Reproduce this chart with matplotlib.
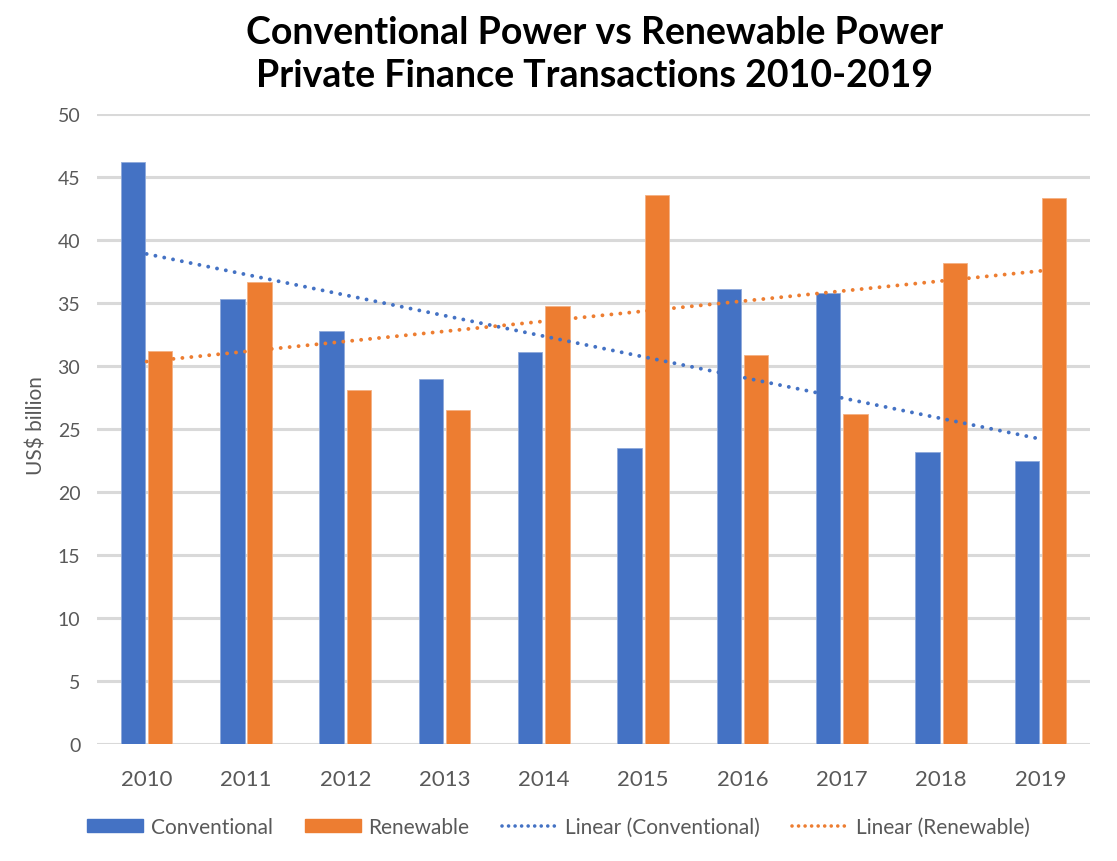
import numpy as np
import matplotlib
matplotlib.use("Agg")
import matplotlib.pyplot as plt
from matplotlib.patches import Patch
from matplotlib.lines import Line2D

years = ["2010", "2011", "2012", "2013", "2014", "2015", "2016", "2017", "2018", "2019"]
conventional = [46.2, 35.3, 32.8, 29.0, 31.1, 23.5, 36.1, 35.8, 23.2, 22.5]
renewable = [31.2, 36.7, 28.1, 26.5, 34.8, 43.6, 30.9, 26.2, 38.2, 43.3]
yticks = [0, 5, 10, 15, 20, 25, 30, 35, 40, 45, 50]

BLUE = "#4472C4"
ORANGE = "#ED7D31"
GRID = "#D9D9D9"
TXT = "#595959"
FONT = "Lato"

plt.rcParams["font.family"] = [FONT, "DejaVu Sans"]

fig = plt.figure(figsize=(11.17, 8.62), dpi=100)
ax = fig.add_axes([0.0868, 0.1357, 0.976 - 0.0868, 0.8666 - 0.1357])

x = np.arange(len(years))
w = 0.245
off = 0.137
ax.bar(x - off, conventional, width=w, color=BLUE, edgecolor="#8EA9DB", linewidth=0.6, zorder=3)
ax.bar(x + off, renewable, width=w, color=ORANGE, edgecolor="#F4B183", linewidth=0.6, zorder=3)

dot_ls = (0, (0.01, 2.3))
for vals, col in [(conventional, BLUE), (renewable, ORANGE)]:
    k, b = np.polyfit(x, vals, 1)
    ax.plot(x, k * x + b, color=col, lw=2.8, linestyle=dot_ls,
            dash_capstyle="round", zorder=4)

ax.set_xlim(-0.5, len(years) - 0.5)
ax.set_ylim(0, 50)
ax.set_yticks(yticks)
ax.set_xticks(x)
ax.set_xticklabels(years, fontsize=16, color=TXT)
ax.tick_params(axis="y", labelsize=14, labelcolor=TXT, length=0, pad=12)
ax.tick_params(axis="x", length=0, pad=18)
for s in ax.spines.values():
    s.set_visible(False)
ax.yaxis.grid(True, color=GRID, lw=2.2, zorder=0)
ax.set_axisbelow(True)

fig.text(0.033, 0.5058, "US$ billion", rotation=90, fontsize=15, color=TXT,
         ha="center", va="center")

fig.text(0.532, 0.937, "Conventional Power vs Renewable Power\nPrivate Finance Transactions 2010-2019",
         ha="center", va="center", fontsize=27, fontweight="bold", color="black",
         linespacing=1.32)

handles = [
    Patch(facecolor=BLUE, edgecolor=BLUE),
    Patch(facecolor=ORANGE, edgecolor=ORANGE),
    Line2D([0], [0], color=BLUE, lw=2.6, linestyle=(0, (0.01, 1.8)), dash_capstyle="round"),
    Line2D([0], [0], color=ORANGE, lw=2.6, linestyle=(0, (0.01, 1.8)), dash_capstyle="round"),
]
labels = ["Conventional", "Renewable", "Linear (Conventional)", "Linear (Renewable)"]
leg = fig.legend(handles, labels, loc="center", bbox_to_anchor=(0.5, 1 - 828 / 862),
                 ncol=4, frameon=False, fontsize=15, handlelength=2.7, handleheight=0.6,
                 handletextpad=0.35, columnspacing=1.55)
for t in leg.get_texts():
    t.set_color(TXT)

fig.savefig("out.png", dpi=100)
